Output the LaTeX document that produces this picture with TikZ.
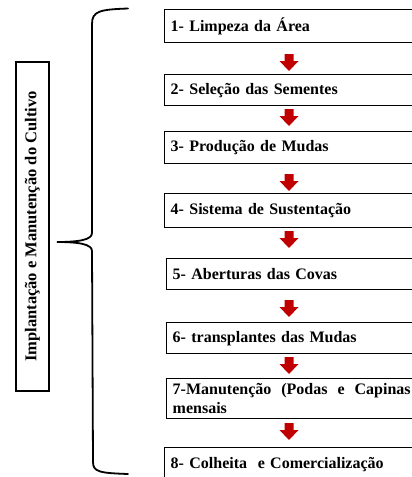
\documentclass[tikz,border=0pt]{standalone}
\usepackage{fontspec}
\setmainfont{Liberation Serif}
\definecolor{arrowred}{RGB}{192,0,0}
\begin{document}
\begin{tikzpicture}[x=1pt,y=-1pt,
  stepbox/.style={draw, line width=1.4pt, anchor=north west, inner xsep=6pt, inner ysep=0pt,
    text width=248pt, align=left, font=\bfseries\fontsize{16}{19}\selectfont},
  sidebox/.style={draw, line width=1.4pt, rotate=90, inner sep=0pt, minimum width=329pt, minimum height=33pt,
    font=\bfseries\fontsize{16.5}{19}\selectfont},
  brace/.style={line width=1.8pt, line cap=round},
  downarr/.pic={\fill[arrowred] (-4.5,0) -- (4.5,0) -- (4.5,7) -- (9.5,7) -- (0,17) -- (-9.5,7) -- (-4.5,7) -- cycle;}]
\useasboundingbox (0,0) rectangle (412,477);
\clip (0,0) rectangle (412,477);

% side label
\node[sidebox] (side) at (32.5,226.5) {Implantação e Manutenção do Cultivo};

% brace
\coordinate (btop) at (128,8.5);
\coordinate (btip) at (57,242);
\coordinate (bbot) at (128,474);
\draw[brace] (btop) .. controls (100,9.5) and (92,11) .. (92,24) -- (92,233)
  .. controls (92,240) and (78,242) .. (btip)
  .. controls (78,242) and (92,244) .. (92,251) -- (93,462)
  .. controls (93,472) and (100,473) .. (bbot);

% steps
\node[stepbox, minimum height=33pt] (s1) at (164,9) {1- Limpeza da Área};
\node[stepbox, minimum height=31pt] (s2) at (164,74) {2- Seleção das Sementes};
\node[stepbox, minimum height=32pt] (s3) at (164,131) {3- Produção de Mudas};
\node[stepbox, minimum height=34pt] (s4) at (164,193) {4- Sistema de Sustentação};
\node[stepbox, minimum height=31pt] (s5) at (166,258) {5- Aberturas das Covas};
\node[stepbox, minimum height=31pt] (s6) at (166,322) {6- transplantes das Mudas};
\node[stepbox, minimum height=40pt, text width=238pt, align=justify] (s7) at (166,378) {7-Manutenção (Podas e Capinas mensais};
\node[stepbox, minimum height=40pt, text depth=10pt] (s8) at (164,447) {8- Colheita\ \ e Comercialização};

% arrows
\pic at (289,54) {downarr};
\pic at (289,109) {downarr};
\pic at (289,174) {downarr};
\pic at (289,231) {downarr};
\pic at (289,300) {downarr};
\pic at (289,357) {downarr};
\pic at (289,423) {downarr};
\end{tikzpicture}
\end{document}
